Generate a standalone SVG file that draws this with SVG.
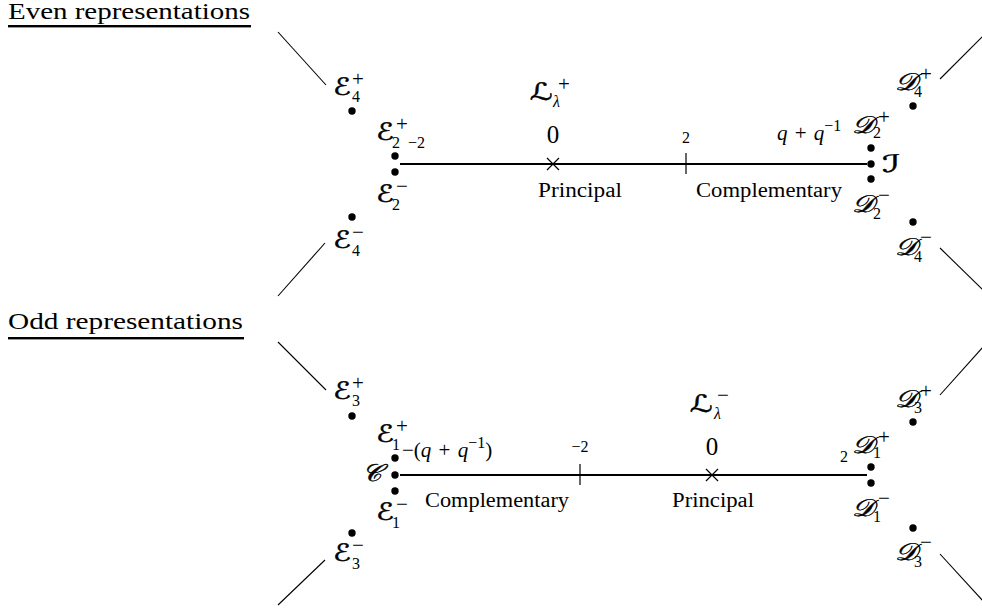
<svg xmlns="http://www.w3.org/2000/svg" width="982" height="613" viewBox="0 0 982 613" font-family="'Liberation Serif','DejaVu Serif',serif">
<style>
text,tspan{fill:#000;font-family:'Liberation Serif','DejaVu Serif',serif}
.h{font-size:24px}
.lbl{font-size:20px}
text.scr{font-size:24px;font-family:'DejaVu Serif','DejaVu Sans','Noto Sans',serif;font-style:italic;stroke:#000;stroke-width:0.45}
.sup{font-size:21px}
.sm{font-size:16px}
.num{font-size:25px}
.it{font-style:italic}
.ex{font-size:21px;word-spacing:2px}
.axis{stroke:#000;stroke-width:2.2;fill:none}
.diag{stroke:#000;stroke-width:1.1;fill:none}
.tick{stroke:#000;stroke-width:1.2;fill:none}
.dot{fill:#000}
</style>
<defs>
<circle id="d" r="3.7" class="dot"/>
</defs>
<rect width="982" height="613" fill="#fff"/>

<g id="headings">
<text class="h" x="8" y="19" textLength="242" lengthAdjust="spacingAndGlyphs">Even representations</text>
<rect x="8" y="25" width="243" height="2.4" fill="#000"/>
<text class="h" x="8" y="329" textLength="235" lengthAdjust="spacingAndGlyphs">Odd representations</text>
<rect x="8" y="337" width="236" height="2.4" fill="#000"/>
</g>

<g id="connectors">
<line class="axis" x1="400" y1="164" x2="867" y2="164"/>
<line class="axis" x1="400" y1="475" x2="867" y2="475"/>
<line class="diag" x1="278" y1="32" x2="326" y2="85"/>
<line class="diag" x1="325" y1="243" x2="278" y2="296"/>
<line class="diag" x1="940" y1="79" x2="983" y2="36"/>
<line class="diag" x1="940" y1="248" x2="983" y2="290"/>
<line class="diag" x1="278" y1="342" x2="326" y2="390"/>
<line class="diag" x1="325" y1="560" x2="278" y2="605"/>
<line class="diag" x1="940" y1="395" x2="983" y2="347"/>
<line class="diag" x1="940" y1="554" x2="983" y2="601"/>
</g>

<!-- Even -->
<g id="E4plus"><use href="#d" x="352" y="111"/>
<text class="scr" x="333" y="95" textLength="18" lengthAdjust="spacingAndGlyphs">ℰ</text><text class="sup" x="352" y="86">+</text><text class="sm" x="352" y="102">4</text></g>
<g id="E2plus"><use href="#d" x="395" y="156"/>
<text class="scr" x="376" y="140" textLength="18" lengthAdjust="spacingAndGlyphs">ℰ</text><text class="sup" x="396" y="131">+</text><text class="sm" x="392" y="148">2</text></g>
<g id="E2minus"><use href="#d" x="395" y="172"/>
<text class="scr" x="376" y="202" textLength="18" lengthAdjust="spacingAndGlyphs">ℰ</text><text class="sup" x="396" y="193">−</text><text class="sm" x="392" y="210">2</text></g>
<g id="E4minus"><use href="#d" x="352" y="217"/>
<text class="scr" x="333" y="248" textLength="18" lengthAdjust="spacingAndGlyphs">ℰ</text><text class="sup" x="352" y="239">−</text><text class="sm" x="352" y="256">4</text></g>
<g id="tickm2top"><text class="sm" x="408" y="148">−2</text></g>
<g id="zero-top"><path class="tick" d="M547,158 L559,170 M559,158 L547,170"/>
<text class="num" x="553" y="143" text-anchor="middle">0</text></g>
<g id="Lplus"><text class="scr" x="530" y="100" textLength="23" lengthAdjust="spacingAndGlyphs">ℒ</text><text class="sup" x="558" y="91">+</text><text class="sm it" x="553" y="107">λ</text></g>
<g id="two-top"><line class="tick" x1="686" y1="153" x2="686" y2="174"/>
<text class="sm" x="686" y="143" text-anchor="middle">2</text></g>
<g id="qq-top"><text class="ex" x="777" y="140"><tspan class="it">q</tspan> + <tspan class="it">q</tspan><tspan class="sm" dy="-9">−1</tspan></text></g>
<text class="lbl" x="538" y="197" textLength="84" lengthAdjust="spacingAndGlyphs">Principal</text>
<text class="lbl" x="696" y="197" textLength="146" lengthAdjust="spacingAndGlyphs">Complementary</text>
<g id="D2plus"><use href="#d" x="871" y="148"/>
<text class="scr" x="852" y="133" textLength="22" lengthAdjust="spacingAndGlyphs">𝒟</text><text class="sup" x="878" y="124">+</text><text class="sm" x="873" y="138">2</text></g>
<g id="Iscr"><use href="#d" x="871" y="164"/><text class="scr" x="882" y="172" textLength="18" lengthAdjust="spacingAndGlyphs">ℐ</text></g>
<g id="D2minus"><use href="#d" x="871" y="179"/>
<text class="scr" x="852" y="212" textLength="22" lengthAdjust="spacingAndGlyphs">𝒟</text><text class="sup" x="878" y="202">−</text><text class="sm" x="873" y="219">2</text></g>
<g id="D4plus"><use href="#d" x="913" y="106"/>
<text class="scr" x="895" y="90" textLength="22" lengthAdjust="spacingAndGlyphs">𝒟</text><text class="sup" x="920" y="81">+</text><text class="sm" x="914" y="97">4</text></g>
<g id="D4minus"><use href="#d" x="913" y="222"/>
<text class="scr" x="895" y="255" textLength="22" lengthAdjust="spacingAndGlyphs">𝒟</text><text class="sup" x="920" y="244">−</text><text class="sm" x="914" y="262">4</text></g>

<!-- Odd -->
<g id="E3plus"><use href="#d" x="352" y="416"/>
<text class="scr" x="333" y="399" textLength="18" lengthAdjust="spacingAndGlyphs">ℰ</text><text class="sup" x="352" y="390">+</text><text class="sm" x="352" y="406">3</text></g>
<g id="E1plus"><use href="#d" x="395" y="458"/>
<text class="scr" x="376" y="442" textLength="18" lengthAdjust="spacingAndGlyphs">ℰ</text><text class="sup" x="396" y="433">+</text><text class="sm" x="392" y="450">1</text></g>
<g id="Cscr"><use href="#d" x="395" y="475"/><text class="scr" x="362" y="481" textLength="19" lengthAdjust="spacingAndGlyphs">𝒞</text></g>
<g id="E1minus"><use href="#d" x="395" y="491"/>
<text class="scr" x="376" y="520" textLength="18" lengthAdjust="spacingAndGlyphs">ℰ</text><text class="sup" x="396" y="511">−</text><text class="sm" x="392" y="528">1</text></g>
<g id="E3minus"><use href="#d" x="352" y="533"/>
<text class="scr" x="333" y="561" textLength="18" lengthAdjust="spacingAndGlyphs">ℰ</text><text class="sup" x="352" y="552">−</text><text class="sm" x="352" y="569">3</text></g>
<g id="qq-bot"><text class="ex" x="402" y="457">−(<tspan class="it">q</tspan> + <tspan class="it">q</tspan><tspan class="sm" dy="-9">−1</tspan><tspan dy="9">)</tspan></text></g>
<g id="tickm2bot"><line class="tick" x1="580" y1="464" x2="580" y2="485"/>
<text class="sm" x="580" y="452" text-anchor="middle">−2</text></g>
<g id="zero-bot"><path class="tick" d="M706,469 L718,481 M718,469 L706,481"/>
<text class="num" x="712" y="455" text-anchor="middle">0</text></g>
<g id="Lminus"><text class="scr" x="690" y="412" textLength="23" lengthAdjust="spacingAndGlyphs">ℒ</text><text class="sup" x="717" y="402">−</text><text class="sm it" x="714" y="419">λ</text></g>
<text class="lbl" x="425" y="507" textLength="144" lengthAdjust="spacingAndGlyphs">Complementary</text>
<text class="lbl" x="672" y="507" textLength="82" lengthAdjust="spacingAndGlyphs">Principal</text>
<g id="two-bot"><text class="sm" x="840" y="462">2</text></g>
<g id="D1plus"><use href="#d" x="871" y="467"/>
<text class="scr" x="852" y="453" textLength="22" lengthAdjust="spacingAndGlyphs">𝒟</text><text class="sup" x="878" y="444">+</text><text class="sm" x="873" y="458">1</text></g>
<g id="D1minus"><use href="#d" x="871" y="483"/>
<text class="scr" x="852" y="516" textLength="22" lengthAdjust="spacingAndGlyphs">𝒟</text><text class="sup" x="878" y="505">−</text><text class="sm" x="873" y="522">1</text></g>
<g id="D3plus"><use href="#d" x="913" y="422"/>
<text class="scr" x="895" y="407" textLength="22" lengthAdjust="spacingAndGlyphs">𝒟</text><text class="sup" x="920" y="398">+</text><text class="sm" x="914" y="413">3</text></g>
<g id="D3minus"><use href="#d" x="913" y="528"/>
<text class="scr" x="895" y="560" textLength="22" lengthAdjust="spacingAndGlyphs">𝒟</text><text class="sup" x="920" y="549">−</text><text class="sm" x="914" y="567">3</text></g>
</svg>
